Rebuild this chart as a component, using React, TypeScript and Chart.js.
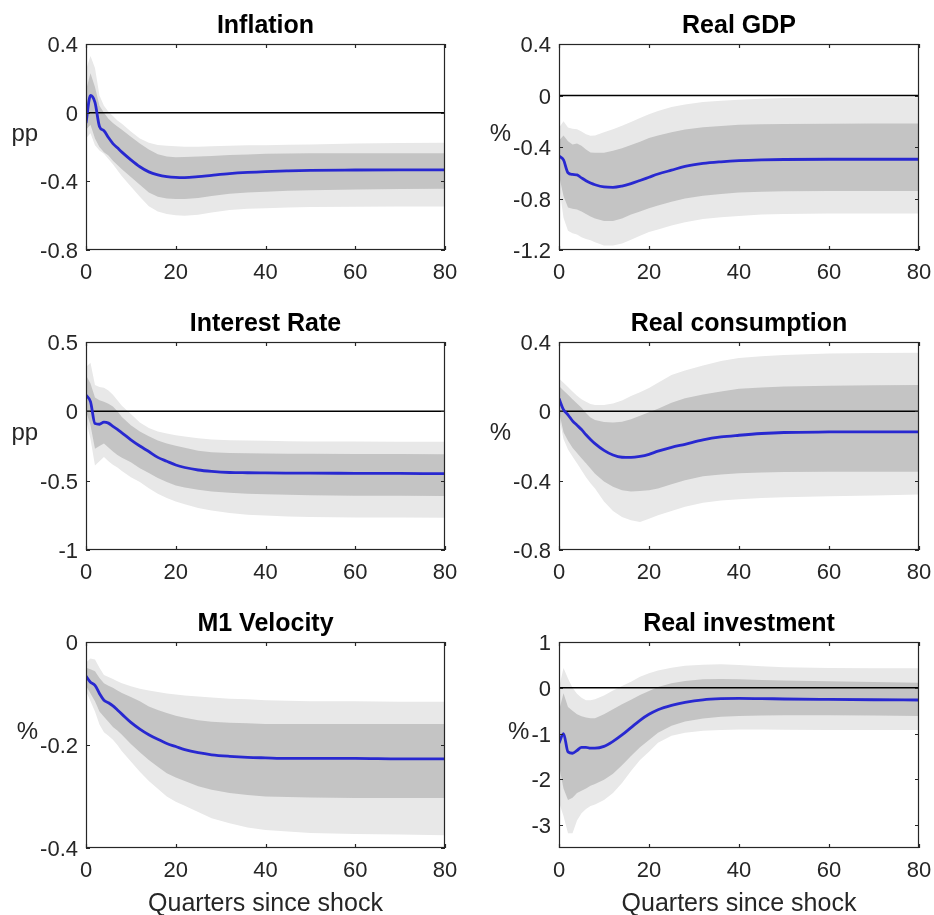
import React, { useEffect, useRef } from "react";
import { Chart, registerables } from "chart.js";

Chart.register(...registerables);

// Horizon (quarters after the shock) at which each response is sampled
const QUARTERS = [0, 1, 2, 3, 4, 5, 6, 7, 8, 10, 12, 14, 16, 18, 20, 22, 25, 28, 32, 36, 40, 45, 50, 60, 70, 80];
const X_TICKS = [0, 20, 40, 60, 80];

// Inflation (pp)
const inflationMedian = [-0.06, 0.10, 0.06, -0.08, -0.105, -0.145, -0.18, -0.205, -0.23, -0.275, -0.315, -0.345, -0.362, -0.372, -0.377, -0.378, -0.373, -0.365, -0.355, -0.348, -0.343, -0.339, -0.336, -0.334, -0.333, -0.333];
const inflationInnerHi = [0.13, 0.23, 0.15, 0.04, 0.0, -0.035, -0.06, -0.08, -0.10, -0.14, -0.18, -0.215, -0.242, -0.255, -0.26, -0.258, -0.256, -0.252, -0.246, -0.243, -0.24, -0.238, -0.237, -0.237, -0.237, -0.237];
const inflationInnerLo = [-0.10, -0.07, -0.15, -0.20, -0.23, -0.25, -0.28, -0.305, -0.33, -0.375, -0.42, -0.465, -0.49, -0.50, -0.503, -0.503, -0.497, -0.485, -0.472, -0.465, -0.46, -0.455, -0.452, -0.448, -0.445, -0.443];
const inflationOuterHi = [0.25, 0.33, 0.26, 0.10, 0.04, 0.005, -0.02, -0.045, -0.065, -0.11, -0.15, -0.175, -0.188, -0.193, -0.196, -0.198, -0.198, -0.196, -0.193, -0.19, -0.19, -0.187, -0.185, -0.18, -0.177, -0.175];
const inflationOuterLo = [-0.15, -0.12, -0.19, -0.22, -0.24, -0.27, -0.30, -0.335, -0.37, -0.43, -0.49, -0.545, -0.575, -0.59, -0.598, -0.60, -0.595, -0.582, -0.567, -0.56, -0.557, -0.553, -0.55, -0.548, -0.547, -0.547];
const inflationTicks = [-0.8, -0.4, 0, 0.4];

// Real GDP (%)
const gdpMedian = [-0.47, -0.5, -0.6, -0.613, -0.617, -0.64, -0.662, -0.68, -0.693, -0.71, -0.713, -0.703, -0.684, -0.66, -0.635, -0.61, -0.58, -0.551, -0.528, -0.515, -0.506, -0.5, -0.497, -0.495, -0.495, -0.495];
const gdpInnerHi = [-0.35, -0.31, -0.355, -0.38, -0.373, -0.39, -0.42, -0.443, -0.445, -0.445, -0.43, -0.41, -0.385, -0.36, -0.33, -0.31, -0.285, -0.265, -0.247, -0.236, -0.228, -0.224, -0.222, -0.22, -0.218, -0.217];
const gdpInnerLo = [-0.62, -0.78, -0.87, -0.88, -0.885, -0.9, -0.92, -0.94, -0.955, -0.975, -0.975, -0.955, -0.925, -0.9, -0.875, -0.855, -0.825, -0.8, -0.779, -0.765, -0.753, -0.747, -0.744, -0.742, -0.742, -0.742];
const gdpOuterHi = [-0.25, -0.2, -0.248, -0.258, -0.262, -0.28, -0.3, -0.313, -0.31, -0.285, -0.262, -0.235, -0.205, -0.175, -0.145, -0.12, -0.09, -0.07, -0.05, -0.04, -0.033, -0.025, -0.02, -0.016, -0.015, -0.014];
const gdpOuterLo = [-0.7, -0.95, -1.05, -1.07, -1.08, -1.1, -1.115, -1.125, -1.14, -1.165, -1.165, -1.15, -1.12, -1.09, -1.06, -1.04, -1.01, -0.985, -0.96, -0.945, -0.935, -0.925, -0.92, -0.917, -0.916, -0.916];
const gdpTicks = [-1.2, -0.8, -0.4, 0, 0.4];

// Interest rate (pp)
const rateMedian = [0.117, 0.07, -0.088, -0.093, -0.078, -0.085, -0.108, -0.13, -0.155, -0.205, -0.25, -0.29, -0.332, -0.36, -0.387, -0.405, -0.423, -0.433, -0.441, -0.443, -0.444, -0.445, -0.446, -0.447, -0.448, -0.449];
const rateInnerHi = [0.26, 0.2, 0.1, 0.08, 0.07, 0.055, 0.035, 0.0, -0.04, -0.1, -0.145, -0.18, -0.21, -0.232, -0.248, -0.262, -0.285, -0.295, -0.3, -0.303, -0.304, -0.305, -0.306, -0.307, -0.308, -0.309];
const rateInnerLo = [0.0, -0.1, -0.27, -0.25, -0.232, -0.26, -0.29, -0.315, -0.335, -0.368, -0.41, -0.445, -0.48, -0.51, -0.535, -0.55, -0.566, -0.578, -0.588, -0.594, -0.598, -0.602, -0.605, -0.608, -0.609, -0.61];
const rateOuterHi = [0.32, 0.35, 0.19, 0.175, 0.17, 0.15, 0.12, 0.08, 0.04, -0.02, -0.08, -0.12, -0.145, -0.16, -0.172, -0.182, -0.195, -0.203, -0.208, -0.211, -0.213, -0.215, -0.217, -0.218, -0.219, -0.22];
const rateOuterLo = [-0.06, -0.2, -0.39, -0.36, -0.33, -0.36, -0.385, -0.405, -0.43, -0.475, -0.51, -0.555, -0.595, -0.625, -0.65, -0.67, -0.698, -0.715, -0.733, -0.745, -0.752, -0.758, -0.762, -0.765, -0.766, -0.767];
const rateTicks = [-1, -0.5, 0, 0.5];

// Real consumption (%)
const consMedian = [0.074, 0.01, -0.02, -0.055, -0.08, -0.105, -0.135, -0.162, -0.186, -0.225, -0.252, -0.265, -0.266, -0.26, -0.248, -0.23, -0.208, -0.19, -0.165, -0.148, -0.138, -0.128, -0.122, -0.119, -0.118, -0.118];
const consInnerHi = [0.146, 0.12, 0.095, 0.07, 0.045, 0.02, -0.01, -0.035, -0.05, -0.062, -0.065, -0.06, -0.045, -0.025, -0.005, 0.015, 0.05, 0.075, 0.097, 0.115, 0.13, 0.138, 0.143, 0.148, 0.15, 0.152];
const consInnerLo = [0.0, -0.12, -0.17, -0.21, -0.24, -0.27, -0.3, -0.33, -0.36, -0.405, -0.435, -0.455, -0.463, -0.46, -0.455, -0.445, -0.42, -0.398, -0.375, -0.365, -0.357, -0.353, -0.35, -0.349, -0.349, -0.349];
const consOuterHi = [0.19, 0.165, 0.14, 0.115, 0.09, 0.07, 0.055, 0.043, 0.037, 0.037, 0.045, 0.063, 0.088, 0.11, 0.135, 0.165, 0.21, 0.235, 0.265, 0.29, 0.307, 0.318, 0.325, 0.333, 0.336, 0.338];
const consOuterLo = [-0.03, -0.16, -0.22, -0.26, -0.3, -0.34, -0.38, -0.415, -0.445, -0.52, -0.575, -0.61, -0.628, -0.638, -0.62, -0.6, -0.575, -0.55, -0.528, -0.515, -0.507, -0.5, -0.496, -0.49, -0.485, -0.48];
const consTicks = [-0.8, -0.4, 0, 0.4];

// M1 velocity (%)
const velMedian = [-0.066, -0.078, -0.084, -0.1, -0.113, -0.118, -0.124, -0.132, -0.14, -0.156, -0.169, -0.18, -0.189, -0.197, -0.203, -0.209, -0.215, -0.219, -0.222, -0.224, -0.225, -0.226, -0.226, -0.226, -0.227, -0.227];
const velInnerHi = [-0.05, -0.053, -0.057, -0.07, -0.08, -0.085, -0.089, -0.094, -0.099, -0.107, -0.115, -0.125, -0.132, -0.138, -0.143, -0.147, -0.152, -0.155, -0.157, -0.158, -0.159, -0.159, -0.159, -0.159, -0.159, -0.159];
const velInnerLo = [-0.085, -0.1, -0.115, -0.135, -0.145, -0.155, -0.165, -0.172, -0.18, -0.198, -0.214, -0.229, -0.242, -0.255, -0.263, -0.27, -0.28, -0.287, -0.293, -0.297, -0.3, -0.301, -0.302, -0.303, -0.303, -0.303];
const velOuterHi = [-0.04, -0.032, -0.034, -0.05, -0.064, -0.068, -0.072, -0.076, -0.08, -0.086, -0.091, -0.094, -0.097, -0.1, -0.102, -0.104, -0.106, -0.108, -0.11, -0.111, -0.113, -0.114, -0.115, -0.115, -0.116, -0.116];
const velOuterLo = [-0.095, -0.115, -0.135, -0.16, -0.175, -0.182, -0.19, -0.2, -0.212, -0.232, -0.252, -0.27, -0.285, -0.3, -0.31, -0.318, -0.33, -0.342, -0.352, -0.36, -0.365, -0.368, -0.371, -0.373, -0.374, -0.375];
const velTicks = [-0.4, -0.2, 0];

// Real investment (%)
const invMedian = [-1.21, -1.0, -1.4, -1.43, -1.37, -1.3, -1.3, -1.32, -1.32, -1.28, -1.17, -1.03, -0.87, -0.71, -0.58, -0.48, -0.385, -0.32, -0.263, -0.238, -0.23, -0.235, -0.245, -0.255, -0.262, -0.267];
const invInnerHi = [-0.5, -0.12, -0.42, -0.5, -0.58, -0.62, -0.65, -0.665, -0.665, -0.58, -0.47, -0.36, -0.26, -0.16, -0.07, 0.015, 0.1, 0.15, 0.185, 0.19, 0.185, 0.172, 0.158, 0.14, 0.125, 0.11];
const invInnerLo = [-1.7, -2.2, -2.45, -2.4, -2.3, -2.25, -2.2, -2.14, -2.1, -2.01, -1.88, -1.69, -1.49, -1.3, -1.14, -0.985, -0.83, -0.735, -0.67, -0.635, -0.615, -0.605, -0.6, -0.6, -0.608, -0.616];
const invOuterHi = [0.0, 0.43, 0.2, 0.0, -0.13, -0.22, -0.27, -0.27, -0.25, -0.17, -0.06, 0.04, 0.13, 0.24, 0.32, 0.38, 0.44, 0.48, 0.505, 0.512, 0.5, 0.47, 0.45, 0.43, 0.425, 0.425];
const invOuterLo = [-2.5, -2.8, -3.18, -3.18, -2.9, -2.74, -2.65, -2.58, -2.55, -2.45, -2.3, -2.08, -1.82, -1.58, -1.4, -1.2, -1.05, -0.98, -0.94, -0.925, -0.91, -0.91, -0.915, -0.92, -0.92, -0.92];
const invTicks = [-3, -2, -1, 0, 1];

const X_LABEL = "Quarters since shock";

type PanelSpec = {
  title: string;
  unit: string;
  yMin: number;
  yMax: number;
  yTicks: number[];
  median: number[];
  innerHi: number[];
  innerLo: number[];
  outerHi: number[];
  outerLo: number[];
  xLabel: string | null;
};

const PANELS: PanelSpec[] = [
  { title: "Inflation", unit: "pp", yMin: -0.8, yMax: 0.4, yTicks: inflationTicks, median: inflationMedian, innerHi: inflationInnerHi, innerLo: inflationInnerLo, outerHi: inflationOuterHi, outerLo: inflationOuterLo, xLabel: null },
  { title: "Real GDP", unit: "%", yMin: -1.2, yMax: 0.4, yTicks: gdpTicks, median: gdpMedian, innerHi: gdpInnerHi, innerLo: gdpInnerLo, outerHi: gdpOuterHi, outerLo: gdpOuterLo, xLabel: null },
  { title: "Interest Rate", unit: "pp", yMin: -1, yMax: 0.5, yTicks: rateTicks, median: rateMedian, innerHi: rateInnerHi, innerLo: rateInnerLo, outerHi: rateOuterHi, outerLo: rateOuterLo, xLabel: null },
  { title: "Real consumption", unit: "%", yMin: -0.8, yMax: 0.4, yTicks: consTicks, median: consMedian, innerHi: consInnerHi, innerLo: consInnerLo, outerHi: consOuterHi, outerLo: consOuterLo, xLabel: null },
  { title: "M1 Velocity", unit: "%", yMin: -0.4, yMax: 0, yTicks: velTicks, median: velMedian, innerHi: velInnerHi, innerLo: velInnerLo, outerHi: velOuterHi, outerLo: velOuterLo, xLabel: X_LABEL },
  { title: "Real investment", unit: "%", yMin: -3.5, yMax: 1, yTicks: invTicks, median: invMedian, innerHi: invInnerHi, innerLo: invInnerLo, outerHi: invOuterHi, outerLo: invOuterLo, xLabel: X_LABEL },
];

// Page grid: canvas cells and plot-area edges per column / row
const CELL_X = [[0, 467], [467, 934]];
const CELL_Y = [[0, 300], [300, 600], [600, 915]];
const PLOT_X = [[86, 445], [559, 919]];
const PLOT_Y = [[44, 250], [342, 550], [642, 848]];
const Y_AXIS_W = 70;
const X_AXIS_H = 40;

const FAMILY = "'Liberation Sans', Arial, Helvetica, sans-serif";
const TICK_SIZE = 22;
const AXIS_GRAY = "#262626";
const BAND_OUTER = "rgb(232,232,232)";
const BAND_INNER = "rgb(196,196,196)";
const LINE_BLUE = "rgb(40,40,208)";
const TICK_LEN = 4;

function makeDecor(spec: PanelSpec) {
  return {
    id: "irfDecor",
    beforeDatasetDraw(chart: any, args: any) {
      if (args.index !== 0) return;
      const { ctx, chartArea: a, scales } = chart;
      const zy = scales.y.getPixelForValue(0);
      if (zy <= a.top + 1 || zy >= a.bottom - 1) return;
      ctx.save();
      ctx.strokeStyle = "#000";
      ctx.lineWidth = 1.5;
      ctx.beginPath();
      ctx.moveTo(a.left, zy);
      ctx.lineTo(a.right, zy);
      ctx.stroke();
      ctx.restore();
    },
    afterDraw(chart: any) {
      const { ctx, chartArea: a, scales } = chart;
      const xs = scales.x;
      const ys = scales.y;
      ctx.save();
      // box frame
      ctx.strokeStyle = AXIS_GRAY;
      ctx.lineWidth = 1.2;
      ctx.strokeRect(a.left + 0.5, a.top + 0.5, a.right - a.left - 1, a.bottom - a.top - 1);
      // inward ticks on all four sides
      ctx.beginPath();
      for (const t of xs.ticks) {
        const px = Math.round(xs.getPixelForValue(t.value)) + 0.5;
        ctx.moveTo(px, a.bottom);
        ctx.lineTo(px, a.bottom - TICK_LEN);
        ctx.moveTo(px, a.top);
        ctx.lineTo(px, a.top + TICK_LEN);
      }
      for (const t of ys.ticks) {
        const py = Math.round(ys.getPixelForValue(t.value)) + 0.5;
        ctx.moveTo(a.left, py);
        ctx.lineTo(a.left + TICK_LEN, py);
        ctx.moveTo(a.right, py);
        ctx.lineTo(a.right - TICK_LEN, py);
      }
      ctx.stroke();

      // title
      ctx.fillStyle = "#000";
      ctx.font = `bold 25px ${FAMILY}`;
      ctx.textAlign = "center";
      ctx.textBaseline = "alphabetic";
      ctx.fillText(spec.title, (a.left + a.right) / 2, a.top - 11);

      // unit label, horizontal, left of the widest tick label
      ctx.font = `${TICK_SIZE}px ${FAMILY}`;
      let maxW = 0;
      for (const t of ys.ticks) {
        maxW = Math.max(maxW, ctx.measureText(String(t.value)).width);
      }
      ctx.fillStyle = AXIS_GRAY;
      ctx.font = `24px ${FAMILY}`;
      ctx.textAlign = "right";
      ctx.fillText(spec.unit, a.left - 8 - maxW - 2, (a.top + a.bottom) / 2 - 6);

      // x axis title on the bottom row
      if (spec.xLabel) {
        ctx.font = `25px ${FAMILY}`;
        ctx.textAlign = "center";
        ctx.fillText(spec.xLabel, (a.left + a.right) / 2, a.bottom + 62.5);
      }
      ctx.restore();
    },
  };
}

function zeroPadding(scale: any) {
  scale.paddingLeft = 0;
  scale.paddingRight = 0;
  scale.paddingTop = 0;
  scale.paddingBottom = 0;
}

function Panel({ spec, index }: { spec: PanelSpec; index: number }) {
  const ref = useRef<HTMLCanvasElement>(null);
  const col = index % 2;
  const row = Math.floor(index / 2);
  const [cx0, cx1] = CELL_X[col];
  const [cy0, cy1] = CELL_Y[row];
  const [px0, px1] = PLOT_X[col];
  const [py0, py1] = PLOT_Y[row];
  const w = cx1 - cx0;
  const h = cy1 - cy0;

  useEffect(() => {
    const canvas = ref.current;
    if (!canvas) return;
    const pts = (ys: number[]) => QUARTERS.map((x, i) => ({ x, y: ys[i] }));
    const band = (ys: number[], fill: any, color: string) => ({
      data: pts(ys),
      borderWidth: 0,
      borderColor: "rgba(0,0,0,0)",
      backgroundColor: color,
      fill,
      pointRadius: 0,
      tension: 0,
    });
    const chart = new Chart(canvas, {
      type: "line",
      data: {
        datasets: [
          {
            data: pts(spec.median),
            borderColor: LINE_BLUE,
            borderWidth: 2.8,
            pointRadius: 0,
            fill: false,
            cubicInterpolationMode: "monotone",
          },
          band(spec.innerHi, "+1", BAND_INNER),
          band(spec.innerLo, false, "rgba(0,0,0,0)"),
          band(spec.outerHi, "+1", BAND_OUTER),
          band(spec.outerLo, false, "rgba(0,0,0,0)"),
        ] as any,
      },
      options: {
        responsive: false,
        animation: false,
        events: [],
        layout: {
          padding: {
            left: px0 - cx0 - Y_AXIS_W,
            right: cx1 - px1,
            top: py0 - cy0,
            bottom: cy1 - py1 - X_AXIS_H,
          },
        },
        plugins: {
          legend: { display: false },
          tooltip: { enabled: false },
          title: { display: false },
        },
        scales: {
          x: {
            type: "linear",
            min: 0,
            max: 80,
            grid: { display: false, drawTicks: false },
            border: { display: false },
            ticks: {
              color: AXIS_GRAY,
              font: { family: FAMILY, size: TICK_SIZE },
              padding: 10,
              maxRotation: 0,
              autoSkip: false,
              callback: (v: any) => String(v),
            },
            afterBuildTicks: (s: any) => {
              s.ticks = X_TICKS.map((value) => ({ value }));
            },
            afterFit: (s: any) => {
              s.height = X_AXIS_H;
              zeroPadding(s);
            },
          },
          y: {
            type: "linear",
            min: spec.yMin,
            max: spec.yMax,
            grid: { display: false, drawTicks: false },
            border: { display: false },
            ticks: {
              color: AXIS_GRAY,
              font: { family: FAMILY, size: TICK_SIZE },
              padding: 8,
              labelOffset: 2,
              autoSkip: false,
              callback: (v: any) => String(v),
            },
            afterBuildTicks: (s: any) => {
              s.ticks = spec.yTicks.map((value) => ({ value }));
            },
            afterFit: (s: any) => {
              s.width = Y_AXIS_W;
              zeroPadding(s);
            },
          },
        },
      } as any,
      plugins: [makeDecor(spec)],
    });
    return () => chart.destroy();
  }, [spec]);

  return (
    <canvas
      ref={ref}
      width={w}
      height={h}
      style={{ position: "absolute", left: cx0, top: cy0, width: w, height: h }}
    />
  );
}

export default function App() {
  return (
    <div
      style={{
        position: "absolute",
        left: 0,
        top: 0,
        width: 934,
        height: 915,
        background: "#ffffff",
        overflow: "hidden",
      }}
    >
      {PANELS.map((p, i) => (
        <Panel key={p.title} spec={p} index={i} />
      ))}
    </div>
  );
}
